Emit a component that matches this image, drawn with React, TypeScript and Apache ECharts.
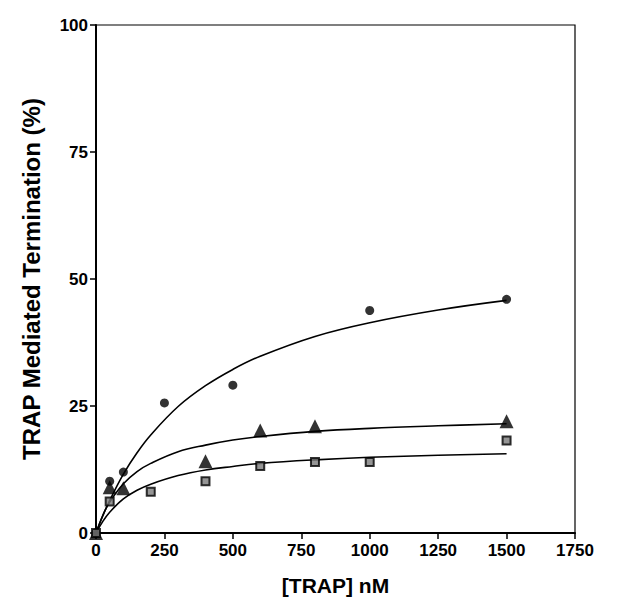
import React, { useEffect, useRef } from "react";
import * as echarts from "echarts";

// Measured points (x: [TRAP] nM, y: % termination)
const circleX = [0, 50, 100, 250, 500, 1000, 1500];
const circleY = [0, 10.2, 12, 25.6, 29.1, 43.8, 46];
const triangleX = [0, 50, 100, 400, 600, 800, 1500];
const triangleY = [0, 9, 8.8, 14.1, 20.2, 21, 22];
const squareX = [0, 50, 200, 400, 600, 800, 1000, 1500];
const squareY = [0, 6.2, 8.1, 10.2, 13.2, 14, 14, 18.2];

// Fitted curves
const curveX = [0, 25, 50, 100, 150, 200, 300, 400, 500, 600, 800, 1000, 1250, 1500];
const circleCurve = [0, 3.4, 6.4, 11.6, 15.8, 19.3, 24.9, 29.0, 32.2, 34.8, 38.7, 41.4, 43.9, 45.8];
const triangleCurve = [0, 3.5, 6.1, 9.7, 12.1, 13.7, 16.0, 17.3, 18.3, 19.0, 20.0, 20.6, 21.1, 21.5];
const squareCurve = [0, 2.3, 4.1, 6.7, 8.4, 9.6, 11.3, 12.4, 13.1, 13.7, 14.4, 14.9, 15.3, 15.6];

const xTicks = [0, 250, 500, 750, 1000, 1250, 1500, 1750];
const yTicks = [0, 25, 50, 75, 100];

const zip = (xs: number[], ys: number[]) => xs.map((x, i) => [x, ys[i]]);

const FONT = "Liberation Sans, Arial, sans-serif";

export default function App() {
  const ref = useRef<HTMLDivElement>(null);
  useEffect(() => {
    if (!ref.current) return;
    const chart = echarts.init(ref.current, null, { renderer: "svg" });
    const lineSeries = (data: number[][]) => ({
      type: "line",
      data,
      smooth: 0.4,
      showSymbol: false,
      symbol: "none",
      lineStyle: { color: "#000", width: 1.6 },
      z: 2,
    });
    const labelStyle = { fontFamily: FONT, fontWeight: "bold", fontSize: 17, color: "#000" };
    chart.setOption({
      animation: false,
      backgroundColor: "#fff",
      grid: {
        left: 96,
        right: 57,
        top: 25,
        bottom: 80,
        show: true,
        borderColor: "#000",
        borderWidth: 1.2,
      },
      xAxis: {
        type: "value",
        min: xTicks[0],
        max: xTicks[xTicks.length - 1],
        interval: 250,
        name: "[TRAP] nM",
        nameLocation: "middle",
        nameGap: 42,
        nameTextStyle: { fontFamily: FONT, fontWeight: "bold", fontSize: 21, color: "#000" },
        axisLine: { show: true, lineStyle: { color: "#000", width: 2 } },
        axisTick: { show: true, length: 6, lineStyle: { color: "#000", width: 1.5 } },
        axisLabel: { ...labelStyle, margin: 9, formatter: (v: number) => String(v) },
        splitLine: { show: false },
      },
      yAxis: {
        type: "value",
        min: yTicks[0],
        max: yTicks[yTicks.length - 1],
        interval: 25,
        name: "TRAP Mediated Termination (%)",
        nameLocation: "middle",
        nameGap: 53,
        nameTextStyle: { fontFamily: FONT, fontWeight: "bold", fontSize: 24, color: "#000" },
        axisLine: { show: true, lineStyle: { color: "#000", width: 2 } },
        axisTick: { show: true, length: 6, lineStyle: { color: "#000", width: 1.5 } },
        axisLabel: { ...labelStyle, margin: 8, formatter: (v: number) => String(v) },
        splitLine: { show: false },
      },
      series: [
        lineSeries(zip(curveX, circleCurve)),
        lineSeries(zip(curveX, triangleCurve)),
        lineSeries(zip(curveX, squareCurve)),
        {
          type: "scatter",
          data: zip(circleX, circleY),
          symbol: "circle",
          symbolSize: 9,
          itemStyle: { color: "#000" },
          z: 3,
        },
        {
          type: "scatter",
          data: zip(triangleX, triangleY),
          symbol: "triangle",
          symbolSize: 14,
          itemStyle: { color: "#000" },
          z: 3,
        },
        {
          type: "scatter",
          data: zip(squareX, squareY),
          symbol: "rect",
          symbolSize: 8,
          itemStyle: { color: "#7a7a7a", borderColor: "#000", borderWidth: 2 },
          z: 3,
        },
      ],
    });
    return () => chart.dispose();
  }, []);
  return (
    <div
      ref={ref}
      style={{ position: "fixed", left: 0, top: 0, width: 632, height: 613, background: "#fff" }}
    />
  );
}
